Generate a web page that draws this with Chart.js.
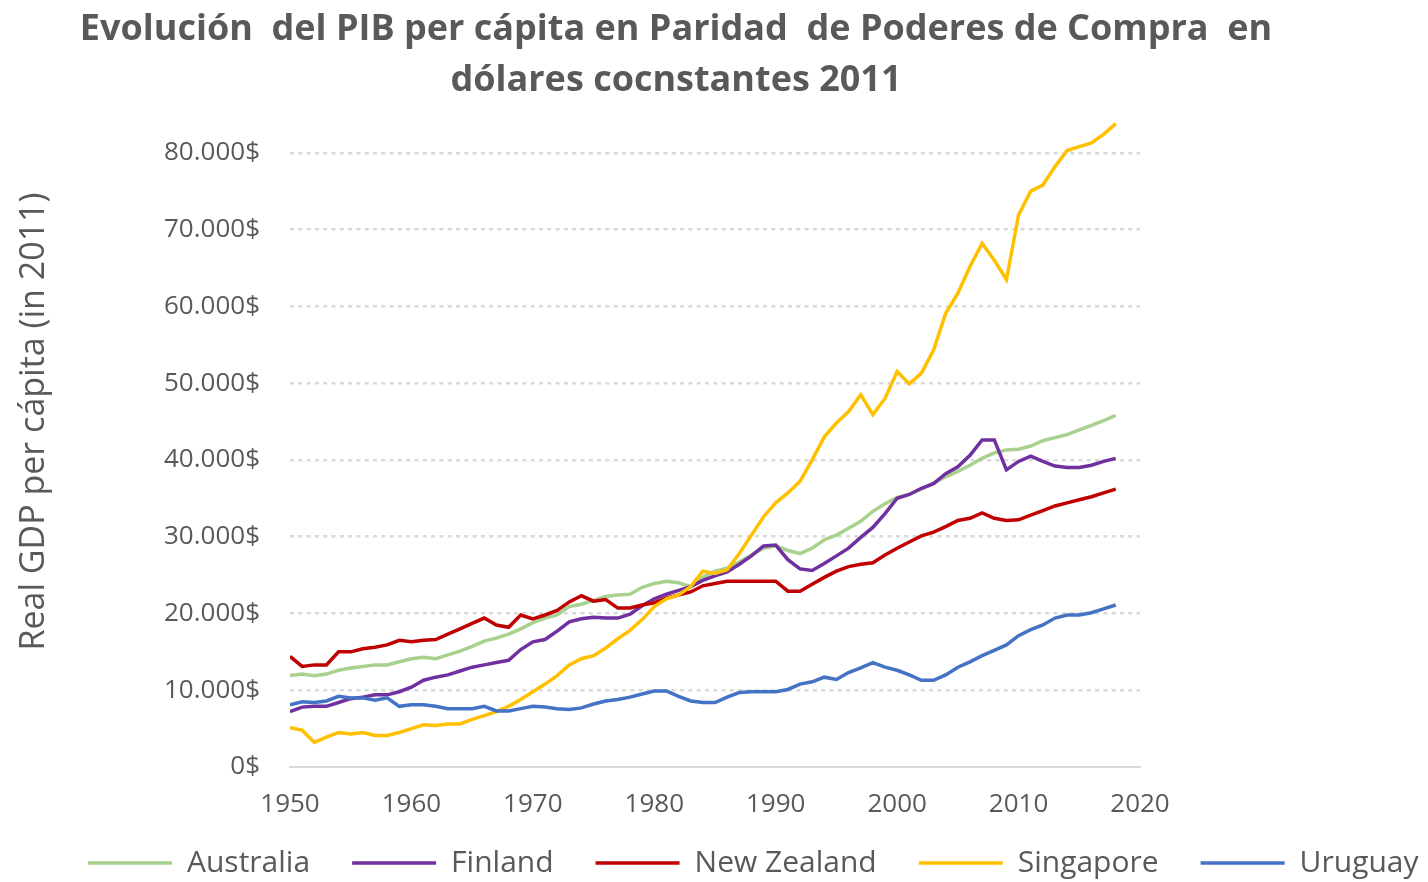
<!DOCTYPE html>
<html>
<head>
<meta charset="utf-8">
<script src="https://cdn.jsdelivr.net/npm/chart.js@4.4.1/dist/chart.umd.min.js"></script>
<style>
  html, body { margin: 0; padding: 0; background: #ffffff; }
  #wrap { position: relative; width: 1428px; height: 882px; }
  #title {
    position: absolute; left: 0; top: 1px; width: 1352px;
    text-align: center; white-space: pre;
    font-family: "Open Sans", sans-serif; font-weight: bold; font-size: 36px;
    line-height: 51px; color: #595959;
  }
  canvas { position: absolute; left: 0; top: 0; }
</style>
</head>
<body>
<div id="wrap">
  <canvas id="c" width="1428" height="882"></canvas>
  <div id="title">Evolución  del PIB per cápita en Paridad  de Poderes de Compra  en
dólares cocnstantes 2011</div>
</div>
<script>
// ---- data ----
const years = [];
for (let y = 1950; y <= 2018; y++) years.push(y);

const seriesNames = ["Australia", "Finland", "New Zealand", "Singapore", "Uruguay"];

const australia = [
  11900,12100,11900,12100,12600,12900,13100,13300,13300,13700,
  14100,14300,14100,14600,15100,15700,16400,16800,17300,18000,
  18800,19400,19800,20900,21200,21700,22200,22400,22500,23400,
  23900,24200,24000,23500,24700,25500,25900,26700,27600,28500,
  28800,28200,27800,28500,29600,30200,31100,32000,33300,34300,
  35100,35500,36200,37000,37800,38500,39300,40200,40900,41300,
  41400,41800,42500,42900,43300,43900,44500,45100,45800
];
const finland = [
  7200,7800,7900,7900,8400,8900,9100,9400,9400,9800,
  10400,11300,11700,12000,12500,13000,13300,13600,13900,15300,
  16300,16600,17700,18900,19300,19500,19400,19400,19900,21000,
  21900,22500,23000,23500,24300,24900,25400,26400,27500,28800,
  28900,27000,25800,25600,26500,27500,28500,29900,31200,33000,
  35000,35500,36300,36900,38200,39100,40600,42600,42600,38700,
  39800,40500,39800,39200,39000,39000,39300,39800,40200
];
const newZealand = [
  14400,13100,13300,13300,15000,15000,15400,15600,15900,16500,
  16300,16500,16600,17300,18000,18700,19400,18500,18200,19800,
  19300,19800,20400,21500,22300,21600,21800,20700,20700,21100,
  21400,22000,22400,22800,23600,23900,24200,24200,24200,24200,
  24200,22900,22900,23800,24700,25500,26100,26400,26600,27600,
  28500,29300,30100,30600,31300,32100,32400,33100,32400,32100,
  32200,32800,33400,34000,34400,34800,35200,35700,36200
];
const singapore = [
  5100,4800,3200,3900,4500,4300,4500,4100,4100,4500,
  5000,5500,5400,5600,5600,6200,6700,7200,7900,8800,
  9800,10800,11900,13300,14100,14500,15500,16700,17800,19200,
  20900,21900,22400,23500,25500,25200,25700,27800,30200,32600,
  34400,35700,37200,40000,43000,44800,46300,48500,45900,48000,
  51500,49900,51300,54300,59100,61700,65200,68200,66000,63500,
  71900,75000,75800,78200,80300,80800,81300,82400,83800
];
const uruguay = [
  8100,8500,8400,8600,9200,9000,9000,8700,9000,7900,
  8100,8100,7900,7600,7600,7600,7900,7300,7300,7600,
  7900,7800,7600,7500,7700,8200,8600,8800,9100,9500,
  9900,9900,9200,8600,8400,8400,9100,9700,9800,9800,
  9800,10100,10800,11100,11700,11400,12300,12900,13600,13000,
  12600,12000,11300,11300,12000,13000,13700,14500,15200,15900,
  17100,17900,18500,19400,19800,19800,20100,20600,21100
];
const xTicks = [1950, 1960, 1970, 1980, 1990, 2000, 2010, 2020];
const yTicks = [0, 10000, 20000, 30000, 40000, 50000, 60000, 70000, 80000];
const yTitle = "Real GDP per cápita (in 2011)";

const seriesValues = [australia, finland, newZealand, singapore, uruguay];
const seriesColors = ["#A9D18E", "#7030A0", "#C00000", "#FFC000", "#4472C4"];

// ---- chart ----
const FONT = "'Open Sans', sans-serif";
const GREY = "#595959";

function fmtMoney(v) {
  return String(Math.round(v)).replace(/\B(?=(\d{3})+(?!\d))/g, ".") + "$";
}

const datasets = seriesNames.map((name, i) => ({
  label: name,
  data: years.map((yr, k) => ({ x: yr, y: seriesValues[i][k] })),
  borderColor: seriesColors[i],
  backgroundColor: seriesColors[i],
  borderWidth: 3.5,
  pointRadius: 0,
  pointHoverRadius: 0,
  tension: 0,
  order: seriesNames.length - 1 - i
}));

const LEG_PAD = 42;

const legendShift = {
  id: "legendShift",
  afterLayout(chart) {
    const lg = chart.legend;
    if (!lg) return;
    lg.left = 88 - LEG_PAD;
    lg.right = 1500;
    lg.width = lg.right - lg.left;
    lg.top = 863 - 15 - LEG_PAD;
    lg.bottom = 882;
    lg.height = lg.bottom - lg.top;
  }
};

new Chart(document.getElementById("c"), {
  type: "line",
  data: { datasets },
  plugins: [legendShift],
  options: {
    responsive: false,
    devicePixelRatio: 1,
    animation: false,
    layout: { padding: { top: 76, left: 0, right: 0, bottom: 0 } },
    plugins: {
      title: { display: false },
      tooltip: { enabled: false },
      legend: {
        display: true,
        position: "bottom",
        align: "start",
        maxHeight: 60,
        labels: {
          usePointStyle: true,
          pointStyle: "line",
          pointStyleWidth: 84,
          padding: LEG_PAD,
          color: GREY,
          font: { family: FONT, size: 30 },
          sort: (a, b) => a.datasetIndex - b.datasetIndex
        }
      }
    },
    scales: {
      x: {
        type: "linear",
        min: 1950,
        max: 2020,
        afterBuildTicks(s) { s.ticks = xTicks.map(v => ({ value: v })); },
        afterFit(s) { s.height = 55; },
        grid: { display: false, drawTicks: false },
        border: { display: true, color: "#D9D9D9", width: 2 },
        ticks: {
          padding: 22,
          maxRotation: 0,
          color: GREY,
          font: { family: FONT, size: 26 },
          callback: v => String(v)
        }
      },
      y: {
        type: "linear",
        position: "left",
        min: 0,
        max: 90000,
        afterBuildTicks(s) { s.ticks = yTicks.map(v => ({ value: v })); },
        afterFit(s) { s.width = 290; },
        grid: {
          drawTicks: false,
          lineWidth: 2.5,
          color: c => (c.tick && c.tick.value === 0) ? "rgba(0,0,0,0)" : "#D9D9D9"
        },
        border: { display: false, dash: [4, 4.3] },
        ticks: {
          padding: 30,
          color: GREY,
          font: { family: FONT, size: 26 },
          callback: v => fmtMoney(v)
        },
        title: {
          display: true,
          text: yTitle,
          color: GREY,
          font: { family: FONT, size: 34 },
          padding: { top: 14, bottom: 0 }
        }
      },
      yRight: {
        type: "linear",
        position: "right",
        display: true,
        afterFit(s) { s.width = 288; },
        grid: { display: false, drawTicks: false },
        border: { display: false },
        ticks: { display: false }
      }
    }
  }
});
</script>
</body>
</html>
